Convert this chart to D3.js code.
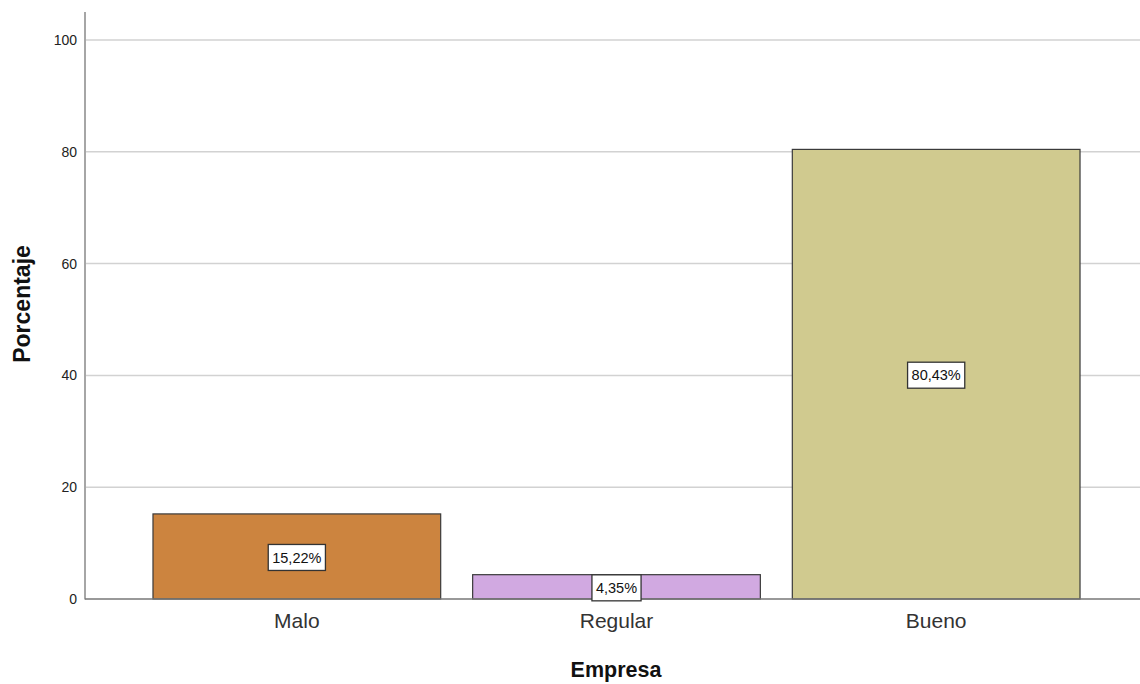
<!DOCTYPE html>
<html>
<head>
<meta charset="utf-8">
<script src="https://cdn.jsdelivr.net/npm/d3@7"></script>
<style>
  body { margin: 0; background: #fff; }
  text { font-family: "Liberation Sans", Arial, sans-serif; }
</style>
</head>
<body>
<div id="chart"></div>
<script>
// Data
const categories = ["Malo", "Regular", "Bueno"];
const values = [15.22, 4.35, 80.43];
const labels = ["15,22%", "4,35%", "80,43%"];
const colors = ["#cc843f", "#d1a9e1", "#d0ca8f"];
const yTicks = [0, 20, 40, 60, 80, 100];

const W = 1140, H = 684;
const svg = d3.select("#chart").append("svg")
    .attr("width", W).attr("height", H);

const x = d3.scaleBand()
    .domain(categories)
    .range([137, 1096])
    .paddingInner(0.1)
    .paddingOuter(0.05);

const y = d3.scaleLinear()
    .domain([0, 100])
    .range([599, 40]);

// gridlines
svg.append("g")
  .selectAll("line")
  .data(yTicks.filter(d => d > 0))
  .enter().append("line")
    .attr("x1", 86).attr("x2", W)
    .attr("y1", d => y(d)).attr("y2", d => y(d))
    .attr("stroke", "#d2d2d2")
    .attr("stroke-width", 1.5);

// y axis
const yAxis = svg.append("g")
    .attr("transform", "translate(85,0)")
    .call(d3.axisLeft(y).tickValues(yTicks).tickSize(0).tickPadding(8));
yAxis.select(".domain").remove();
yAxis.selectAll("text").attr("font-size", 14).attr("fill", "#222");
svg.append("line")
    .attr("x1", 85).attr("x2", 85)
    .attr("y1", 12).attr("y2", 599.5)
    .attr("stroke", "#888").attr("stroke-width", 1.5);

// bars
svg.append("g")
  .selectAll("rect")
  .data(categories)
  .enter().append("rect")
    .attr("x", d => x(d))
    .attr("y", (d, i) => y(values[i]))
    .attr("width", x.bandwidth())
    .attr("height", (d, i) => y(0) - y(values[i]))
    .attr("fill", (d, i) => colors[i])
    .attr("stroke", "#3a3a3a")
    .attr("stroke-width", 1.2);

// x axis
const xAxis = svg.append("g")
    .attr("transform", "translate(0,599)")
    .call(d3.axisBottom(x).tickSize(0).tickPadding(14));
xAxis.select(".domain").remove();
xAxis.selectAll("text").attr("font-size", 21).attr("fill", "#333");
svg.append("line")
    .attr("x1", 85).attr("x2", W)
    .attr("y1", 599).attr("y2", 599)
    .attr("stroke", "#777").attr("stroke-width", 1.5);

// value labels, box sized to the text
const lab = svg.append("g")
  .selectAll("g")
  .data(categories)
  .enter().append("g")
    .attr("transform", (d, i) => `translate(${x(d) + x.bandwidth() / 2},${y(values[i] / 2) + 1})`);
const boxes = lab.append("rect")
    .attr("fill", "#fff")
    .attr("stroke", "#333").attr("stroke-width", 1.3);
lab.append("text")
    .attr("text-anchor", "middle")
    .attr("dy", "0.36em")
    .attr("font-size", 14.5)
    .attr("fill", "#111")
    .text((d, i) => labels[i])
    .each(function(d, i) {
        const w = this.getComputedTextLength() + 8;
        d3.select(boxes.nodes()[i])
          .attr("x", -w / 2).attr("y", -13)
          .attr("width", w).attr("height", 26);
    });

// axis titles
svg.append("text")
    .attr("x", 616).attr("y", 677)
    .attr("text-anchor", "middle")
    .attr("font-size", 21.5).attr("font-weight", "bold")
    .attr("fill", "#111")
    .text("Empresa");
svg.append("text")
    .attr("transform", "translate(30,304) rotate(-90)")
    .attr("text-anchor", "middle")
    .attr("font-size", 23).attr("font-weight", "bold")
    .attr("fill", "#111")
    .text("Porcentaje");
</script>
</body>
</html>
